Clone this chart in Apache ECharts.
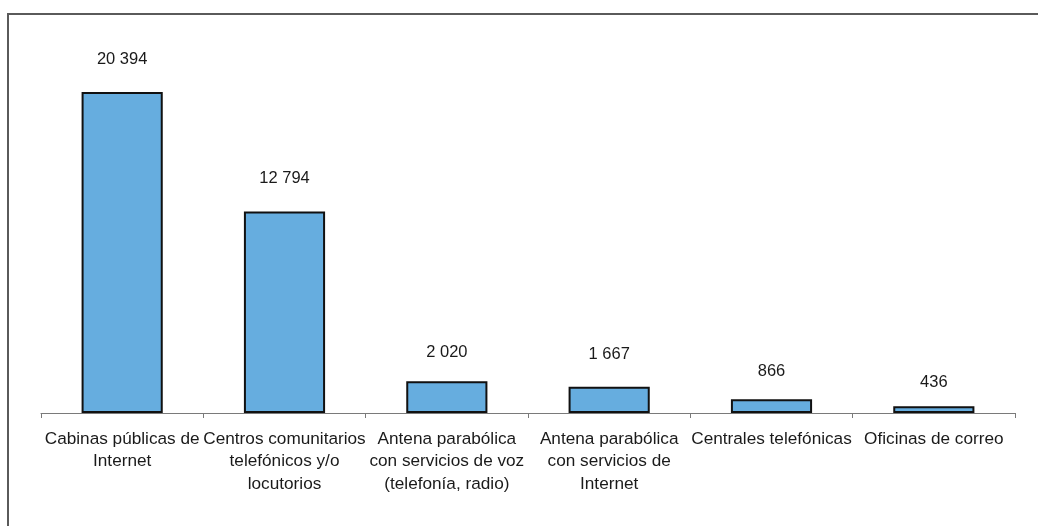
<!DOCTYPE html>
<html>
<head>
<meta charset="utf-8">
<script src="https://cdn.jsdelivr.net/npm/echarts@6/dist/echarts.min.js"></script>
<style>
html,body{margin:0;padding:0;background:#fff;}
#chart{width:1038px;height:526px;}
</style>
</head>
<body>
<div id="chart"></div>
<script>
const categories = [
  "Cabinas públicas de\nInternet",
  "Centros comunitarios\ntelefónicos y/o\nlocutorios",
  "Antena parabólica\ncon servicios de voz\n(telefonía, radio)",
  "Antena parabólica\ncon servicios de\nInternet",
  "Centrales telefónicas",
  "Oficinas de correo"
];
const values = [20394, 12794, 2020, 1667, 866, 436];
// label gap above each bar (style only, px)
const labelGaps = [23, 23, 19, 22, 18, 14];

function fmt(v) {
  return String(v).replace(/\B(?=(\d{3})+(?!\d))/g, " ");
}

const FONT = '"Liberation Sans", Arial, sans-serif';
const chart = echarts.init(document.getElementById('chart'), null, {renderer: 'canvas'});
chart.setOption({
  animation: false,
  backgroundColor: '#fff',
  textStyle: {fontFamily: FONT},
  graphic: [{
    type: 'rect',
    shape: {x: 8, y: 14, width: 1200, height: 700},
    style: {fill: 'none', stroke: '#5a5a5a', lineWidth: 2},
    silent: true
  }],
  grid: {left: 41, right: 23, top: 19.5, bottom: 113, containLabel: false},
  xAxis: {
    type: 'category',
    data: categories,
    axisLine: {show: true, lineStyle: {color: '#7a7a7a', width: 1}},
    axisTick: {show: true, alignWithLabel: false, length: 5, lineStyle: {color: '#7a7a7a'}},
    axisLabel: {
      interval: 0, hideOverlap: false, margin: 15,
      color: '#1a1a1a', fontSize: 17.2, lineHeight: 22.5,
      fontFamily: FONT
    }
  },
  yAxis: {
    type: 'value', min: 0, max: 25000,
    show: false, splitLine: {show: false}
  },
  series: [{
    type: 'bar',
    data: values.map((v, i) => ({value: v, label: {distance: labelGaps[i]}})),
    barWidth: '50%',
    itemStyle: {color: '#66ADDF', borderColor: '#111', borderWidth: 2},
    label: {
      show: true, position: 'top', distance: 20,
      color: '#1a1a1a', fontSize: 16.5, lineHeight: 20,
      fontFamily: FONT,
      formatter: p => fmt(p.value)
    }
  }]
});
</script>
</body>
</html>
